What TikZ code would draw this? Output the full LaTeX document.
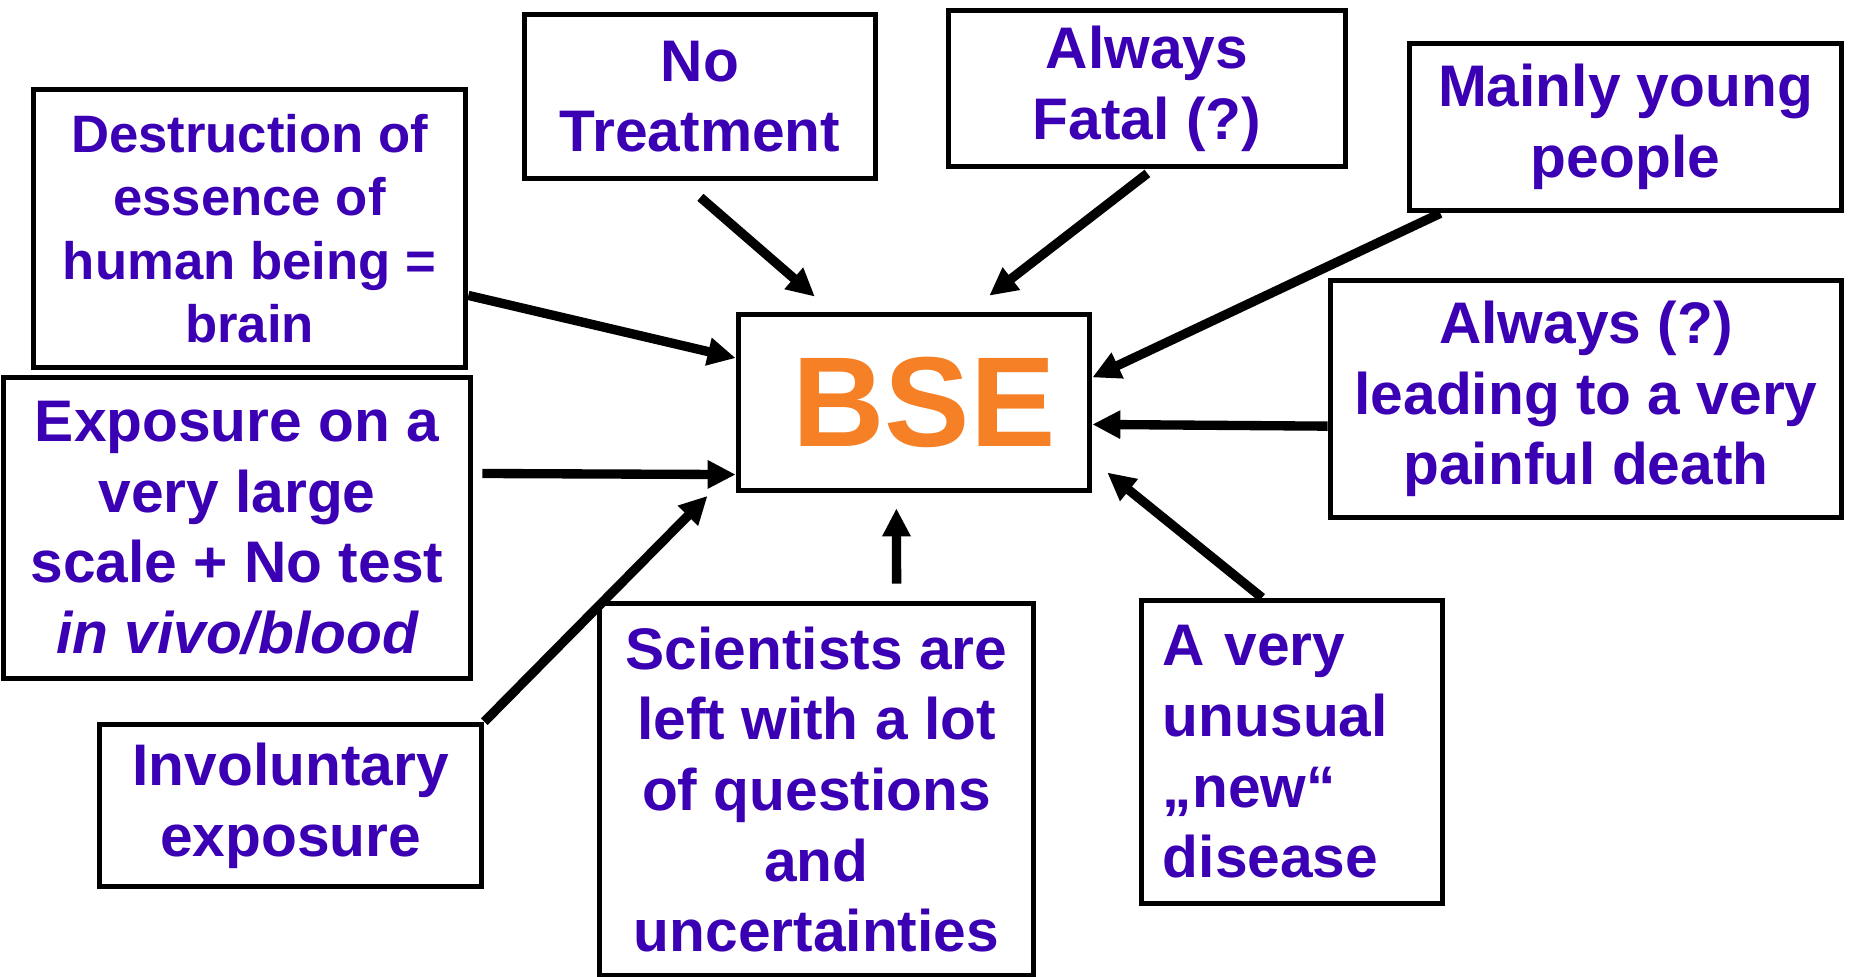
\documentclass[tikz,border=0pt]{standalone}
\usepackage{fontspec}
\setmainfont{Liberation Sans}
\usetikzlibrary{arrows.meta}

\definecolor{txtblue}{RGB}{60,0,180}
\definecolor{bseorange}{RGB}{245,128,37}

\tikzset{every picture/.style={line width=0.75pt}}
\tikzset{
  box/.style={draw, line width=4.25pt, fill=white, inner sep=0pt, align=center,
    text=txtblue, font=\fontsize{44}{53}\selectfont\bfseries},
  bsearrow/.style={line width=7pt, -{Triangle[length=21pt,width=20pt]}},
}

\begin{document}
\begin{tikzpicture}[x=0.75pt,y=0.75pt,yscale=-1,xscale=1]
\useasboundingbox (0,0) rectangle (1851,976);

%Shape: Rectangle [BSE]
\node [box, minimum width=263.25pt, minimum height=132pt, text=bseorange,
  font=\fontsize{96}{100}\selectfont\bfseries] (bse) at (914,402.5) {\hspace*{15pt}BSE};

%Shape: Rectangle [left side]
\node [box, minimum width=324pt, minimum height=208.5pt,
  font=\fontsize{39.5}{47.5}\selectfont\bfseries] (destr) at (249.5,228.5)
  {Destruction of\\essence of\\human being =\\brain};
\node [box, minimum width=350.25pt, minimum height=225.75pt] (expo) at (237,528)
  {Exposure on a\\very large\\scale + No test\\\itshape in vivo/blood};
\node [box, minimum width=286.5pt, minimum height=121.5pt] (invol) at (290.5,805.5)
  {Involuntary\\exposure};

%Shape: Rectangle [top]
\node [box, minimum width=263.25pt, minimum height=123pt] (notreat) at (700,96.5)
  {No\\Treatment};
\node [box, minimum width=297.75pt, minimum height=117pt] (fatal) at (1147,88.5)
  {Always\\Fatal (?)};
\node [box, minimum width=324pt, minimum height=125.25pt] (young) at (1625.5,127)
  {Mainly young\\people};

%Shape: Rectangle [right and bottom]
\node [box, minimum width=383.25pt, minimum height=177.75pt] (leading) at (1586,399)
  {Always (?)\\leading to a very\\painful death};
\node [box, minimum width=325.5pt, minimum height=279pt] (sci) at (816.5,789.5)
  {Scientists are\\left with a lot\\of questions\\and\\uncertainties};
\node [box, align=left, inner xsep=16pt, text width=193.75pt, minimum height=227.25pt]
  (newdis) at (1292,752) {A very\\unusual\\„new“\\disease};

%Straight Lines
\draw [bsearrow] (destr.-17) -- (bse.166);
\draw [bsearrow, shorten <=18.3pt, shorten >=17.2pt] (notreat.-102) -- (bse.132);
\draw [bsearrow, shorten <=5pt, shorten >=19.6pt] (fatal.-86) -- (bse.59);
\draw [bsearrow] (young.-155) -- (bse.8);
\draw [bsearrow] (leading.-174) -- (bse.-7);
\draw [bsearrow, shorten >=14.4pt] (newdis.101) -- (bse.-18);
\draw [bsearrow, shorten <=12.75pt, shorten >=11.25pt] (sci.67) -- (bse.-101);
\draw [bsearrow, shorten >=30pt] (invol.north east) -- (bse.-160);
\draw [bsearrow, shorten <=6.75pt] (expo.13) -- (bse.-158);

\end{tikzpicture}
\end{document}
